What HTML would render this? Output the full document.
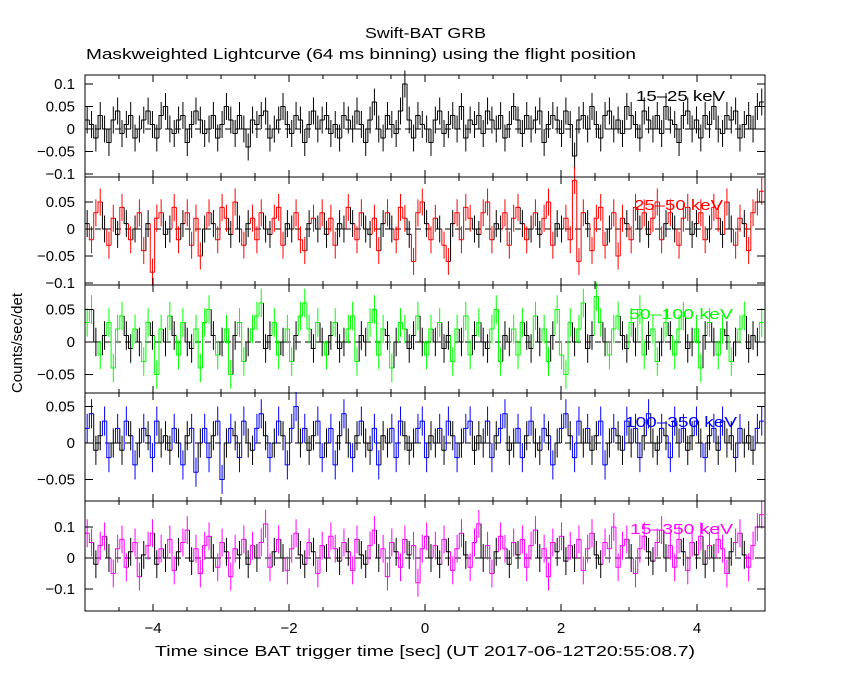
<!DOCTYPE html>
<html><head><meta charset="utf-8"><style>
body{margin:0;background:#fff;}
svg{display:block;font-family:"Liberation Sans",sans-serif;}
</style></head><body>
<svg id="chart" width="850" height="680" viewBox="0 0 850 680">
<text x="365" y="38" textLength="121" lengthAdjust="spacingAndGlyphs" font-size="15">Swift-BAT GRB</text>
<text x="86" y="59" textLength="550" lengthAdjust="spacingAndGlyphs" font-size="15">Maskweighted Lightcurve (64 ms binning) using the flight position</text>
<text x="155" y="656" textLength="540" lengthAdjust="spacingAndGlyphs" font-size="15">Time since BAT trigger time [sec] (UT 2017-06-12T20:55:08.7)</text>
<text x="0" y="0" transform="translate(22,343) rotate(-90)" text-anchor="middle" font-size="15">Counts/sec/det</text>
<g id="plots"></g>
</svg>
<script>
const tStart = -5, tStep = 0.064;
const s1 = [0.02,0.01,-0.02,0.03,0.00,-0.03,0.02,0.04,-0.01,0.01,0.03,-0.02,0.00,0.02,0.04,0.01,-0.02,0.03,0.05,0.00,
-0.01,0.02,0.03,-0.03,0.01,0.04,0.02,-0.01,0.00,0.03,-0.02,0.01,0.05,0.02,-0.01,0.03,0.00,-0.04,0.02,0.01,
0.03,0.04,-0.02,0.00,0.02,0.05,0.01,-0.01,0.03,0.02,-0.03,0.01,0.04,0.00,0.02,0.03,-0.01,0.01,-0.02,0.03,
0.02,0.00,0.04,0.01,-0.03,0.02,0.06,0.00,-0.02,0.03,0.01,-0.01,0.04,0.10,0.02,-0.02,0.03,0.01,0.00,-0.03,
0.02,0.04,-0.01,0.01,0.03,0.00,0.05,-0.02,0.02,0.01,0.03,-0.01,0.04,0.02,0.00,0.03,-0.02,0.01,0.05,0.02,
-0.01,0.03,0.00,0.02,0.04,-0.03,0.01,0.03,0.02,-0.01,0.04,0.01,-0.06,0.02,0.03,0.00,0.05,0.01,-0.02,0.03,
0.04,0.00,0.02,-0.01,0.05,0.03,0.01,-0.02,0.04,0.02,0.00,0.03,-0.01,0.05,0.02,0.01,-0.03,0.03,0.04,0.00,
0.02,-0.02,0.03,0.01,0.05,0.00,-0.01,0.03,0.02,0.04,-0.02,0.01,0.03,0.00,0.05,0.06];
const s2 = [0.01,-0.02,0.03,0.05,0.00,-0.03,0.02,-0.01,0.04,0.01,-0.02,0.00,0.03,-0.04,0.01,-0.08,0.02,0.03,-0.01,0.00,
0.04,-0.02,0.01,0.03,-0.03,0.02,-0.05,0.00,0.03,0.01,-0.02,0.04,0.02,-0.01,0.05,0.00,-0.03,0.01,0.02,-0.02,
0.03,0.00,-0.01,0.02,0.04,-0.03,0.01,0.00,0.03,-0.02,-0.04,0.01,0.02,0.00,0.03,-0.01,0.02,-0.03,0.01,0.00,
0.04,0.01,-0.02,0.03,0.00,-0.01,0.02,-0.04,0.01,0.03,0.00,-0.02,0.04,0.02,-0.01,-0.06,0.03,0.05,0.01,-0.02,
0.02,0.00,-0.03,-0.06,0.01,0.03,-0.02,0.04,0.02,0.00,-0.01,0.03,0.05,-0.02,0.01,0.00,0.03,-0.03,0.02,0.04,
0.01,-0.02,0.00,0.03,-0.01,0.02,0.05,-0.03,0.01,0.00,0.02,-0.02,0.09,-0.06,0.03,0.01,-0.04,0.02,0.04,-0.03,
0.00,0.03,-0.05,0.02,0.01,-0.02,0.04,0.00,0.03,-0.01,0.02,0.05,-0.02,0.01,0.03,0.00,-0.03,0.02,0.04,-0.01,
0.01,0.03,-0.02,0.00,0.04,0.02,-0.01,0.05,0.00,-0.03,0.02,0.01,-0.04,0.03,0.05,0.07];
const s3 = [0.03,0.05,0.00,-0.02,0.01,0.03,-0.04,0.02,0.04,0.01,-0.01,0.02,0.00,-0.03,0.03,0.01,-0.05,0.02,0.00,0.04,
0.01,-0.02,0.03,0.00,-0.01,0.02,-0.04,0.03,0.05,0.01,-0.02,0.00,0.02,-0.05,0.01,0.03,-0.03,0.00,0.02,0.04,
0.06,-0.01,0.01,0.03,-0.02,0.00,0.02,-0.03,0.01,0.04,0.06,0.02,-0.01,0.03,0.00,-0.02,0.01,0.03,-0.01,0.00,
0.02,0.04,-0.03,0.01,0.00,0.03,0.05,-0.02,0.02,0.01,-0.04,0.00,0.03,0.02,-0.01,0.01,0.04,0.00,-0.02,0.02,
0.00,0.03,-0.01,0.01,-0.03,0.02,0.00,0.04,-0.02,0.01,0.03,0.00,-0.01,0.02,0.05,-0.03,0.01,0.00,0.02,-0.02,
0.03,0.01,-0.01,0.04,0.00,0.02,-0.03,0.01,0.05,-0.02,-0.05,0.03,0.00,0.02,0.06,-0.01,0.01,0.07,0.03,0.00,
-0.02,0.02,0.04,0.01,-0.01,0.03,0.00,0.05,-0.02,0.01,0.02,-0.03,0.00,0.03,0.01,-0.02,0.02,0.04,-0.01,0.00,
0.02,-0.04,0.01,0.03,0.00,-0.02,0.02,0.01,-0.03,0.00,0.02,0.04,-0.01,0.01,0.00,0.03];
const s4 = [0.02,0.04,-0.01,0.01,0.03,-0.02,0.00,0.02,-0.01,0.03,0.01,-0.03,0.00,0.02,0.01,-0.02,0.03,0.00,0.01,-0.01,
0.02,0.00,-0.03,0.01,0.02,-0.04,0.00,0.02,-0.02,0.01,0.03,-0.05,0.00,0.02,0.01,-0.02,0.03,0.00,-0.01,0.02,
0.04,0.01,-0.02,0.00,0.03,0.01,-0.03,0.02,0.05,0.00,0.02,-0.01,0.01,0.03,-0.02,0.00,0.02,-0.03,0.01,0.04,
0.00,-0.02,0.01,0.03,0.00,-0.01,0.02,-0.03,0.01,0.00,0.02,-0.02,0.03,0.01,-0.01,0.00,0.02,0.03,-0.02,0.01,
0.00,0.02,-0.01,0.03,0.01,-0.02,0.00,0.02,0.03,-0.01,0.01,0.00,0.03,-0.02,0.01,0.02,0.04,-0.01,0.00,0.02,
-0.02,0.01,0.03,0.00,-0.01,0.02,0.01,-0.03,0.00,0.02,0.04,0.01,-0.02,0.03,0.00,0.02,-0.01,0.01,0.03,-0.03,
0.00,0.02,0.01,-0.01,0.03,0.00,0.02,-0.02,0.01,0.04,0.00,-0.01,0.02,0.01,-0.02,0.03,0.00,0.02,-0.01,0.01,
0.03,0.00,-0.02,0.01,0.02,-0.01,0.03,0.00,0.01,-0.02,0.02,0.00,0.01,-0.01,0.02,0.03];
const s5 = [0.08,0.05,-0.02,0.04,0.07,0.00,-0.05,0.03,0.06,-0.03,0.02,0.05,-0.06,0.01,0.04,0.08,-0.02,0.03,0.00,0.06,
-0.04,0.02,0.05,0.09,-0.01,0.03,-0.05,0.04,0.07,0.00,-0.03,0.05,0.02,-0.06,0.03,0.01,0.06,-0.02,0.04,0.00,
0.05,0.11,-0.03,0.02,0.06,0.00,-0.04,0.03,0.08,0.01,-0.02,0.05,0.02,-0.05,0.04,0.00,0.07,0.03,-0.01,0.05,
0.02,-0.04,0.06,0.01,-0.02,0.04,0.09,0.00,0.03,-0.06,0.05,0.02,-0.03,0.06,0.01,0.04,-0.08,0.03,0.07,0.00,
0.04,-0.02,0.06,0.02,-0.04,0.03,0.08,0.01,-0.03,0.05,0.11,0.00,0.04,-0.05,0.02,0.07,0.03,-0.02,0.05,0.01,
0.06,-0.03,0.04,0.09,0.00,0.03,-0.06,0.05,0.02,0.07,-0.01,0.04,0.00,0.06,-0.04,0.03,0.08,0.01,-0.02,0.05,
0.03,0.10,-0.03,0.04,0.06,0.00,-0.05,0.03,0.07,0.02,-0.01,0.05,0.09,0.00,0.04,-0.03,0.06,0.02,-0.04,0.05,
0.01,0.07,-0.02,0.04,0.00,0.06,0.03,-0.05,0.02,0.05,0.08,0.01,-0.03,0.04,0.10,0.14];
const errs = [0.03, 0.025, 0.022, 0.02, 0.045];
const bandLabels = ["15\u201325 keV","25\u201350 keV","50\u2013100 keV","100\u2013350 keV","15\u2013350 keV"];
const yTicks1 = [-0.1,-0.05,0,0.05,0.1], yTickLabels1 = ["\u22120.1","\u22120.05","0","0.05","0.1"];
const yTicks2 = [-0.1,-0.05,0,0.05], yTickLabels2 = ["\u22120.1","\u22120.05","0","0.05"];
const yTicks3 = [-0.05,0,0.05], yTickLabels3 = ["\u22120.05","0","0.05"];
const yTicks4 = [-0.05,0,0.05], yTickLabels4 = ["\u22120.05","0","0.05"];
const yTicks5 = [-0.1,0,0.1], yTickLabels5 = ["\u22120.1","0","0.1"];
const xTicks = [-4,-2,0,2,4], xTickLabels = ["\u22124","\u22122","0","2","4"];

const NS = "http://www.w3.org/2000/svg";
const X0 = 85, X1 = 765;
const xs = t => X0 + (t - tStart) / 10 * (X1 - X0);
const panels = [
 {data:s1, top:75, bot:177, zero:129, ppu:450, color:"#000", ticks:yTicks1, labels:yTickLabels1, ly:101, lx:636, lw:89},
 {data:s2, top:177, bot:285, zero:229, ppu:540, color:"#ff0000", ticks:yTicks2, labels:yTickLabels2, ly:210, lx:634, lw:89},
 {data:s3, top:285, bot:393, zero:342, ppu:650, color:"#00ff00", ticks:yTicks3, labels:yTickLabels3, ly:319, lx:629, lw:104},
 {data:s4, top:393, bot:501, zero:443, ppu:730, color:"#0000ff", ticks:yTicks4, labels:yTickLabels4, ly:427, lx:625, lw:112},
 {data:s5, top:501, bot:611, zero:558, ppu:310, color:"#ff00ff", ticks:yTicks5, labels:yTickLabels5, ly:534, lx:630, lw:103}
];
const root = document.getElementById('plots');
function mk(tag, attrs, parent){const e=document.createElementNS(NS,tag);for(const k in attrs)e.setAttribute(k,attrs[k]);parent.appendChild(e);return e;}

panels.forEach((p,pi)=>{
 const g = mk('g',{},root);
 
 
 const ys = v => p.zero - v * p.ppu;
 const err = errs[pi];
 const zl = mk('line',{x1:X0,x2:X1,y1:ys(0),y2:ys(0),stroke:'#000','stroke-dasharray':'6,4','stroke-width':1},g);
 
 
 let prevY = null;
 p.data.forEach((v,i)=>{
  const t0 = tStart + i*tStep, t1 = Math.min(t0 + tStep, 5);
  const xa = xs(t0), xb = xs(t1), y = ys(v);
  const col = (pi===0 || Math.abs(v) < err*0.6) ? '#000' : p.color;
  let d = 'M'+xa+','+(prevY===null?y:prevY)+'L'+xa+','+y+'L'+xb+','+y;
  const st = mk('path',{d:d,stroke:col,fill:'none','stroke-width':1},g);
  
  
  const xc = (xa+xb)/2;
  const eb = mk('line',{x1:xc,x2:xc,y1:ys(v+err),y2:ys(v-err),stroke:col,'stroke-width':1},g);
  
  
  prevY = y;
 });
 const fr = mk('rect',{x:X0,y:p.top,width:X1-X0,height:p.bot-p.top,fill:'none',stroke:'#000','stroke-width':1},g);
 
 
 for(let t=-5;t<=5.001;t+=0.5){
  const x = xs(t), major = Math.abs(Math.round(t)-t)<1e-6 && Math.round(t)%2===0;
  const L = major?7:4;
  mk('line',{x1:x,x2:x,y1:p.top,y2:p.top+L,stroke:'#000'},g);
  mk('line',{x1:x,x2:x,y1:p.bot,y2:p.bot-L,stroke:'#000'},g);
 }
 p.ticks.forEach((tv,k)=>{
  const y = ys(tv);
  mk('line',{x1:X0,x2:X0+8,y1:y,y2:y,stroke:'#000'},g);
  mk('line',{x1:X1,x2:X1-8,y1:y,y2:y,stroke:'#000'},g);
  const tl = mk('text',{x:75,y:y+5,'text-anchor':'end','font-size':15},g);
  tl.textContent = p.labels[k];
  
  
 });
 const lb = mk('text',{x:p.lx,y:p.ly,'font-size':15,fill:p.color,textLength:p.lw,lengthAdjust:'spacingAndGlyphs'},g);
 lb.textContent = bandLabels[pi];
 
 
});
xTicks.forEach((t,k)=>{
 const tl = mk('text',{x:xs(t),y:633,'text-anchor':'middle','font-size':15},root);
 tl.textContent = xTickLabels[k];
 
 
});
</script>
</body></html>
